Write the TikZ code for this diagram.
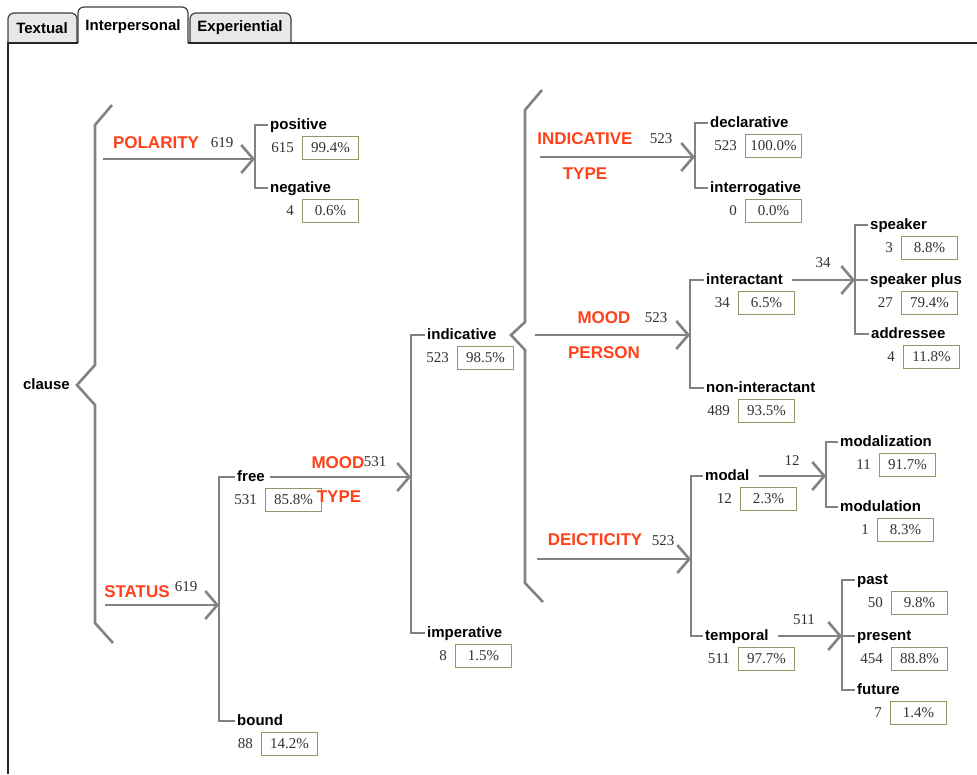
\documentclass[tikz,border=0pt]{standalone}
\usepackage{fontspec}
\setmainfont{Liberation Serif}
\setsansfont{Liberation Sans}
\usetikzlibrary{arrows.meta}
\definecolor{linegray}{RGB}{130,130,130}
\definecolor{sysred}{RGB}{255,64,24}
\definecolor{boxolive}{RGB}{150,150,105}
\definecolor{numgray}{RGB}{50,50,50}
\definecolor{tabgray}{RGB}{232,232,232}
% one feature: name, x, y, box x, label, count, percent
\newcommand\feature[7]{%
  \node[feat] (#1) at (#2,#3) {#5};
  \node[pctbox] (#1-pct) at (#4,#3+23) {#7};
  \node[cnt] (#1-cnt) at ([xshift=-8pt]#1-pct.west) {#6};
}

\begin{document}
\begin{tikzpicture}[x=1pt, y=-1pt,
    line/.style={draw=linegray, line width=2.6pt},
    arr/.style={line, -{Straight Barb[length=12pt,width=28pt]}},
    feat/.style={anchor=west, inner xsep=2pt, inner ysep=0pt, text height=11pt, text depth=3pt,
      font=\sffamily\bfseries\fontsize{15}{17}\selectfont},
    sys/.style={inner sep=0pt, text=sysred, font=\sffamily\bfseries\fontsize{17}{19}\selectfont},
    num/.style={inner sep=0pt, text=numgray, font=\fontsize{15}{17}\selectfont},
    cnt/.style={num, anchor=east},
    pctbox/.style={num, anchor=west, draw=boxolive, line width=1pt, minimum width=56pt, minimum height=23pt},
    tab/.style={draw=black!75, line width=1.2pt, rounded corners=6pt},
    tablabel/.style={inner sep=0pt, font=\sffamily\bfseries\fontsize{15}{17}\selectfont},
    frame/.style={draw=black!85, line width=1.2pt}]
			\useasboundingbox (0,0) rectangle (977,774);
			
			%%%%% TABS %%%%%
			\filldraw[tab, fill=tabgray] (8,43) -- (8,13) -- (77,13) -- (77,43);
			\filldraw[tab, fill=white] (78,43) -- (78,7) -- (188,7) -- (188,43);
			\filldraw[tab, fill=tabgray] (190,43) -- (190,13) -- (291,13) -- (291,43);
			\node[tablabel] (textual) at (42,28) {Textual};
			\node[tablabel] (interpersonal) at (133,27) {Interpersonal};
			\node[tablabel] (experiential) at (240,28) {Experiential};
			\draw[frame] (8,774) -- (8,43) -- (78,43);
			\draw[frame] (188,43) -- (977,43);
			
			%%%%% CLAUSE %%%%%
			\node[feat, anchor=east] (clause) at (72,385) {clause};
			\draw[line] (113,643) -- (95,623) -- (95,405) -- (77,385) -- (95,365) -- (95,125) -- (112,105);
			
			% POLARITY
			\coordinate (polarity-in) at (103,159);
			\coordinate (polarity) at (255,159);
			\draw[arr] (polarity-in) -- (polarity);
			\node[sys] (polarity-name) at (156,143) {POLARITY};
			\node[num] (polarity-n) at (222,143) {619};
			\feature{positive}{268}{125}{302}{positive}{615}{99.4\%}
			\feature{negative}{268}{188}{302}{negative}{4}{0.6\%}
			\draw[line] (positive.west) -| (polarity) |- (negative.west);
			
			% STATUS
			\coordinate (status-in) at (105,605);
			\coordinate (status) at (219,605);
			\draw[arr] (status-in) -- (status);
			\node[sys] (status-name) at (137,592) {STATUS};
			\node[num] (status-n) at (186,587) {619};
			\feature{free}{235}{477}{265}{free}{531}{85.8\%}
			\feature{bound}{235}{721}{261}{bound}{88}{14.2\%}
			\draw[line] (free.west) -| (status) |- (bound.west);
			
			% MOOD TYPE
			\coordinate (moodtype) at (411,477);
			\draw[arr] ([xshift=3pt]free.east) -- (moodtype);
			\node[sys] (moodtype-name) at (338,463) {MOOD};
			\node[num] (moodtype-n) at (375,462) {531};
			\node[sys] (moodtype-name2) at (339,497) {TYPE};
			\feature{indicative}{425}{335}{457}{indicative}{523}{98.5\%}
			\feature{imperative}{425}{633}{455}{imperative}{8}{1.5\%}
			\draw[line] (indicative.west) -| (moodtype) |- (imperative.west);
			
			%%%%% INDICATIVE %%%%%
			\draw[line] (542,90) -- (525,110) -- (525,322) -- (511,335) -- (525,350) -- (525,583) -- (543,602);
			
			% INDICATIVE TYPE
			\coordinate (indtype-in) at (540,157);
			\coordinate (indtype) at (695,157);
			\draw[arr] (indtype-in) -- (indtype);
			\node[sys] (indtype-name) at (585,139) {INDICATIVE};
			\node[num] (indtype-n) at (661,139) {523};
			\node[sys] (indtype-name2) at (585,174) {TYPE};
			\feature{declarative}{708}{123}{745}{declarative}{523}{100.0\%}
			\feature{interrogative}{708}{188}{745}{interrogative}{0}{0.0\%}
			\draw[line] (declarative.west) -| (indtype) |- (interrogative.west);
			
			% MOOD PERSON
			\coordinate (person-in) at (535,335);
			\coordinate (person) at (690,335);
			\draw[arr] (person-in) -- (person);
			\node[sys] (person-name) at (604,318) {MOOD};
			\node[num] (person-n) at (656,318) {523};
			\node[sys] (person-name2) at (604,353) {PERSON};
			\feature{interactant}{704}{280}{738}{interactant}{34}{6.5\%}
			\feature{noninteractant}{704}{388}{738}{non-interactant}{489}{93.5\%}
			\draw[line] (interactant.west) -| (person) |- (noninteractant.west);
			
			% interactant
			\coordinate (speech) at (855,280);
			\draw[arr] ([xshift=7pt]interactant.east) -- (speech);
			\node[num] (speech-n) at (823,263) {34};
			\feature{speaker}{868}{225}{901}{speaker}{3}{8.8\%}
			\feature{speakerplus}{868}{280}{901}{speaker plus}{27}{79.4\%}
			\feature{addressee}{869}{334}{903}{addressee}{4}{11.8\%}
			\draw[line] (speaker.west) -| (speech) |- (addressee.west);
			\draw[line] (speech) -- (speakerplus.west);
			
			% DEICTICITY
			\coordinate (deicticity-in) at (537,559);
			\coordinate (deicticity) at (691,559);
			\draw[arr] (deicticity-in) -- (deicticity);
			\node[sys] (deicticity-name) at (595,540) {DEICTICITY};
			\node[num] (deicticity-n) at (663,541) {523};
			\feature{modal}{703}{476}{740}{modal}{12}{2.3\%}
			\feature{temporal}{703}{636}{738}{temporal}{511}{97.7\%}
			\draw[line] (modal.west) -| (deicticity) |- (temporal.west);
			
			% modal
			\coordinate (modality) at (826,476);
			\draw[arr] ([xshift=7pt]modal.east) -- (modality);
			\node[num] (modality-n) at (792,461) {12};
			\feature{modalization}{838}{442}{879}{modalization}{11}{91.7\%}
			\feature{modulation}{838}{507}{877}{modulation}{1}{8.3\%}
			\draw[line] (modalization.west) -| (modality) |- (modulation.west);
			
			% temporal
			\coordinate (tense) at (842,636);
			\draw[arr] ([xshift=7pt]temporal.east) -- (tense);
			\node[num] (tense-n) at (804,620) {511};
			\feature{past}{855}{580}{891}{past}{50}{9.8\%}
			\feature{present}{855}{636}{891}{present}{454}{88.8\%}
			\feature{future}{855}{690}{890}{future}{7}{1.4\%}
			\draw[line] (past.west) -| (tense) |- (future.west);
			\draw[line] (tense) -- (present.west);
			
\end{tikzpicture}
\end{document}
